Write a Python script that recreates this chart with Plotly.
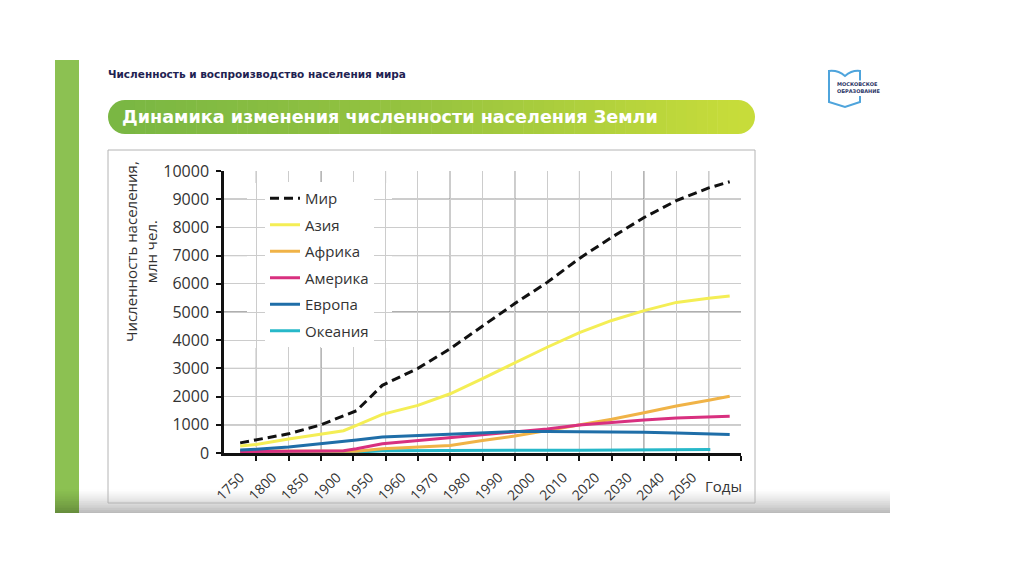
import plotly.graph_objects as go

# ---------------- data ----------------
year_labels = ["1750", "1800", "1850", "1900", "1950", "1960", "1970", "1980",
               "1990", "2000", "2010", "2020", "2030", "2040", "2050"]

# positions along the category scale (0 = first label, 1 = next label ...)
pos = [0, 0.5, 1.5, 2.5, 3.2, 3.6, 4.4, 5.5, 6.5, 7.5, 8.5, 9.5, 10.5,
       11.5, 12.5, 13.5, 14.5, 15.15]
pos_oceania = [0, 0.5, 1.5, 2.5, 3.2, 3.6, 4.4, 5.5, 6.5, 7.5, 8.5, 9.5, 10.5,
               11.5, 12.5, 13.5, 14.55]

world = [360, 460, 680, 1000, 1320, 1500, 2400, 3000, 3700, 4500, 5300, 6050,
         6900, 7650, 8350, 8950, 9400, 9620]
asia = [250, 300, 500, 680, 790, 980, 1370, 1690, 2100, 2640, 3200, 3750,
        4270, 4700, 5050, 5340, 5490, 5570]
africa = [70, 70, 70, 70, 60, 60, 150, 200, 270, 440, 600, 800, 1000, 1200,
          1430, 1670, 1870, 2010]
america = [50, 50, 60, 70, 80, 150, 330, 440, 530, 650, 730, 850, 990, 1090,
           1170, 1240, 1280, 1300]
europe = [110, 130, 210, 320, 400, 460, 570, 620, 670, 730, 760, 760, 760,
          750, 740, 710, 680, 660]
oceania = [5, 5, 5, 5, 10, 30, 80, 90, 90, 90, 95, 100, 100, 105, 110, 115, 120]

series = [
    ("Океания", pos_oceania, oceania, "#27b8c9", None, 6),
    ("Африка", pos, africa, "#f0b347", None, 3),
    ("Америка", pos, america, "#d8307f", None, 4),
    ("Европа", pos, europe, "#1f6ea8", None, 5),
    ("Азия", pos, asia, "#f4ee55", None, 2),
    ("Мир", pos, world, "#111111", "9px,5px", 1),
]

y_ticks = list(range(0, 10001, 1000))
y_ticktext = [str(v) for v in y_ticks]

# ---------------- geometry helpers (page pixel -> paper) ----------------
OFF = 8                      # default page margin of the html body
W, H = 1008, 558
PL, PR, PT, PB = 224, 741, 171, 453   # plot area in page pixels


def fx(px):
    return (px - PL) / (PR - PL)


def fy(py):
    return (PB - py) / (PB - PT)


def lerp_color(c1, c2, t):
    a = [int(c1[i:i + 2], 16) for i in (1, 3, 5)]
    b = [int(c2[i:i + 2], 16) for i in (1, 3, 5)]
    return "#%02x%02x%02x" % tuple(round(a[k] + (b[k] - a[k]) * t) for k in range(3))


fig = go.Figure()
for name, xs, ys, color, dash, rank in series:
    fig.add_trace(go.Scatter(
        x=xs, y=ys, mode="lines", name=name, legendrank=rank,
        legendgroup=name,
        line=dict(color=color, width=3, dash=dash),
        hoverinfo="skip",
    ))

shapes = []

# green side bar
shapes.append(dict(type="rect", xref="paper", yref="paper", layer="below",
                   x0=fx(55), x1=fx(79), y0=fy(513), y1=fy(60),
                   fillcolor="#8cc152", line=dict(width=0)))

# bottom slide shadow (gradient)
n = 14
for i in range(n):
    y0p = 489 + i * (24 / n)
    y1p = 489 + (i + 1) * (24 / n)
    a = 0.28 * ((i + 0.5) / n) ** 1.3
    shapes.append(dict(type="rect", xref="paper", yref="paper", layer="below",
                       x0=fx(55), x1=fx(890), y0=fy(y1p), y1=fy(y0p),
                       fillcolor=f"rgba(0,0,0,{a:.3f})", line=dict(width=0)))

# chart frame
shapes.append(dict(type="rect", xref="paper", yref="paper", layer="below",
                   x0=fx(108), x1=fx(755), y0=fy(503), y1=fy(150),
                   fillcolor="rgba(0,0,0,0)", line=dict(color="#b4b4b4", width=1)))

# banner (gradient pill)
c_left, c_mid, c_right = "#7ab743", "#98c43f", "#c7dc3a"
r = 17
yc = 117
shapes.append(dict(type="circle", xref="paper", yref="paper", layer="below",
                   x0=fx(108), x1=fx(108 + 2 * r), y0=fy(yc + r), y1=fy(yc - r),
                   fillcolor=c_left, line=dict(width=0)))
shapes.append(dict(type="circle", xref="paper", yref="paper", layer="below",
                   x0=fx(755 - 2 * r), x1=fx(755), y0=fy(yc + r), y1=fy(yc - r),
                   fillcolor=c_right, line=dict(width=0)))
xa, xb = 108 + r, 755 - r
ns = 60
for i in range(ns):
    t = (i + 0.5) / ns
    col = lerp_color(c_left, c_mid, t * 2) if t < 0.5 else lerp_color(c_mid, c_right, (t - 0.5) * 2)
    shapes.append(dict(type="rect", xref="paper", yref="paper", layer="below",
                       x0=fx(xa + (xb - xa) * i / ns) - 0.0005,
                       x1=fx(xa + (xb - xa) * (i + 1) / ns) + 0.0005,
                       y0=fy(yc + r), y1=fy(yc - r),
                       fillcolor=col, line=dict(width=0)))


# logo outline
def P(px, py):
    return f"{fx(px):.5f},{fy(py):.5f}"


logo_col = "#4ea4dc"
shapes.append(dict(type="path", xref="paper", yref="paper", layer="below",
                   path=f"M {P(860, 81)} L {P(860, 71)} Q {P(852, 70)} {P(845, 76)} "
                        f"Q {P(838, 70)} {P(829, 71)} L {P(829, 102)} L {P(845, 107)} "
                        f"L {P(860, 102)} L {P(860, 96)}",
                   line=dict(color=logo_col, width=2)))

# darker grid lines (every other line)
for xv in [0.5, 2.5, 4.5, 6.5, 8.5, 10.5, 12.5, 14.5]:
    shapes.append(dict(type="line", xref="x", yref="paper", layer="between",
                       x0=xv, x1=xv, y0=0, y1=1,
                       line=dict(color="#5e5e5e", width=1)))
for yv in [1000, 3000, 5000, 7000, 9000]:
    shapes.append(dict(type="line", xref="paper", yref="y", layer="between",
                       x0=0, x1=1, y0=yv, y1=yv,
                       line=dict(color="#5e5e5e", width=1)))

# white legend background
shapes.append(dict(type="rect", xref="paper", yref="paper", layer="between",
                   x0=fx(247), x1=fx(392), y0=fy(348), y1=fy(183),
                   fillcolor="white", line=dict(width=0)))

annotations = [
    dict(text="Численность и воспроизводство населения мира", xref="paper", yref="paper",
         x=fx(106), y=fy(74), xanchor="left", yanchor="middle", showarrow=False,
         font=dict(family="DejaVu Sans", size=10.5, color="#1f2352", weight="bold")),
    dict(text="Динамика изменения численности населения Земли", xref="paper", yref="paper",
         x=fx(120), y=fy(117), xanchor="left", yanchor="middle", showarrow=False,
         font=dict(family="DejaVu Sans", size=17.6, color="white", weight="bold")),
    dict(text="МОСКОВСКОЕ<br>ОБРАЗОВАНИЕ", xref="paper", yref="paper",
         x=fx(836), y=fy(88), xanchor="left", yanchor="middle", showarrow=False,
         align="left", bgcolor="white", borderpad=0,
         font=dict(family="DejaVu Sans", size=5, color="#2b3566", weight="bold")),
    dict(text="Численность населения,<br>млн чел.", xref="paper", yref="paper",
         x=fx(141), y=fy(252), xanchor="center", yanchor="middle", showarrow=False,
         textangle=-90, font=dict(family="Open Sans", size=15, color="#333333")),
    dict(text="Годы", xref="paper", yref="paper",
         x=fx(723), y=fy(486), xanchor="center", yanchor="middle", showarrow=False,
         font=dict(family="Open Sans", size=15, color="#333333")),
]

fig.update_layout(
    width=W, height=H,
    margin=dict(l=PL - OFF, r=W - (PR - OFF), t=PT - OFF, b=H - (PB - OFF)),
    paper_bgcolor="white", plot_bgcolor="white",
    font=dict(family="Open Sans", color="#333333"),
    shapes=shapes, annotations=annotations,
    showlegend=True,
    legend=dict(x=fx(265), y=fy(182), xanchor="left", yanchor="top",
                bgcolor="white", font=dict(family="Open Sans", size=15, color="#333333"),
                tracegroupgap=4, itemwidth=30, traceorder="grouped"),
    xaxis=dict(
        range=[-0.5, 15.5], tickmode="array", tickvals=list(range(len(year_labels))),
        ticktext=year_labels, tickangle=-45, showgrid=False, zeroline=False,
        ticks="", ticklabelstandoff=8,
        tickfont=dict(family="Open Sans", size=14, color="#333333"),
        showline=True, linecolor="#111111", linewidth=2.5,
        minor=dict(tickmode="array", tickvals=[k + 0.5 for k in range(16)],
                   ticks="outside", ticklen=5, tickcolor="#111111", tickwidth=1.5,
                   showgrid=True, gridcolor="#cccccc", gridwidth=1),
    ),
    yaxis=dict(
        range=[0, 10000], tickmode="array", tickvals=y_ticks, ticktext=y_ticktext,
        ticks="outside", ticklen=5, tickcolor="#111111", tickwidth=1.5,
        showgrid=True, gridcolor="#cccccc", gridwidth=1, zeroline=False,
        showline=True, linecolor="#111111", linewidth=2.5,
        tickfont=dict(family="Open Sans", size=16, color="#333333"),
        ticklabelstandoff=4,
    ),
)

fig.write_html("out.html")
